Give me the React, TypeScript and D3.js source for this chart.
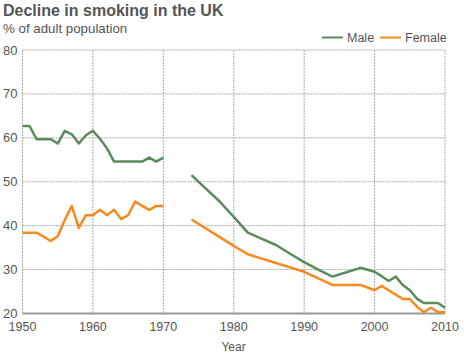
import React from "react";
import * as d3 from "d3";

const years: number[] = [
  1950, 1951, 1952, 1953, 1954, 1955, 1956, 1957, 1958, 1959, 1960, 1961, 1962, 1963, 1964, 1965, 1966, 1967, 1968, 1969, 1970,
  1974, 1976, 1978, 1980, 1982, 1984, 1986, 1988, 1990, 1992, 1994, 1996, 1998, 2000, 2001, 2002, 2003, 2004, 2005, 2006, 2007, 2008, 2009, 2010,
];
const maleValues: number[] = [
  62.7, 62.7, 59.7, 59.7, 59.7, 58.7, 61.6, 60.8, 58.7, 60.6, 61.6, 59.8, 57.6, 54.6, 54.6, 54.6, 54.6, 54.6, 55.5, 54.6, 55.5,
  51.5, 48.5, 45.5, 42.0, 38.4, 37.0, 35.6, 33.6, 31.7, 30.0, 28.4, 29.4, 30.4, 29.5, 28.5, 27.4, 28.4, 26.5, 25.3, 23.4, 22.4, 22.4, 22.4, 21.3,
];
const femaleValues: number[] = [
  38.4, 38.4, 38.4, 37.5, 36.5, 37.6, 41.3, 44.5, 39.5, 42.4, 42.4, 43.6, 42.4, 43.6, 41.5, 42.4, 45.5, 44.5, 43.6, 44.5, 44.5,
  41.4, 39.4, 37.4, 35.4, 33.5, 32.5, 31.5, 30.5, 29.5, 28.0, 26.5, 26.5, 26.5, 25.3, 26.3, 25.3, 24.3, 23.3, 23.3, 21.6, 20.3, 21.3, 20.3, 20.3,
];
const yTicks: number[] = [20, 30, 40, 50, 60, 70, 80];
const xTicks: number[] = [1950, 1960, 1970, 1980, 1990, 2000, 2010];
const gapAfter = 1970;

const W = 464;
const H = 353;
const FONT = "'Liberation Sans', Arial, Helvetica, sans-serif";
const MALE = "#5b8a5b";
const FEMALE = "#f7891f";

export default function App() {
  const x = d3.scaleLinear().domain([1950, 2010]).range([22.5, 445]);
  const y = d3.scaleLinear().domain([20, 80]).range([313.5, 50]);

  const mk = (vals: number[]) => {
    const pts = years.map((yr, i) => ({ yr, v: vals[i] }));
    const a = pts.filter((p) => p.yr <= gapAfter);
    const b = pts.filter((p) => p.yr > gapAfter);
    const line = d3
      .line<{ yr: number; v: number }>()
      .x((d) => x(d.yr))
      .y((d) => y(d.v));
    return [line(a) || "", line(b) || ""];
  };
  const male = mk(maleValues);
  const female = mk(femaleValues);

  return (
    <svg width={W} height={H} style={{ position: "absolute", left: 0, top: 0, background: "#fff" }}>
      <text x={3} y={15.5} fontFamily={FONT} fontWeight="bold" fontSize={16} fill="#555">
        Decline in smoking in the UK
      </text>
      <text x={3} y={33} fontFamily={FONT} fontSize={13.3} fill="#555">
        % of adult population
      </text>
      {/* legend */}
      <line x1={322} x2={343} y1={37.5} y2={37.5} stroke={MALE} strokeWidth={2} />
      <text x={347} y={42} fontFamily={FONT} fontSize={12.5} fill="#555">
        Male
      </text>
      <line x1={380} x2={401} y1={37.5} y2={37.5} stroke={FEMALE} strokeWidth={2} />
      <text x={405} y={42} fontFamily={FONT} fontSize={12.5} fill="#555">
        Female
      </text>
      {/* grid */}
      {yTicks
        .filter((t) => t !== 20)
        .map((t) => (
          <line key={"h" + t} x1={x(1950)} x2={x(2010)} y1={y(t)} y2={y(t)} stroke="#aaa" strokeWidth={1} strokeDasharray="2,1" />
        ))}
      {xTicks.map((t) => (
        <line key={"v" + t} x1={x(t)} x2={x(t)} y1={y(80)} y2={y(20)} stroke="#aaa" strokeWidth={1} strokeDasharray="2,1" />
      ))}
      <line x1={x(1950)} x2={x(2010)} y1={y(20)} y2={y(20)} stroke="#999" strokeWidth={2} />
      {yTicks.map((t) => (
        <text key={"yl" + t} x={17.5} y={y(t) + 4.5} textAnchor="end" fontFamily={FONT} fontSize={13} fill="#555">
          {t}
        </text>
      ))}
      {xTicks.map((t) => (
        <text key={"xl" + t} x={x(t)} y={331} textAnchor="middle" fontFamily={FONT} fontSize={12.5} fill="#555">
          {t}
        </text>
      ))}
      <text x={233.5} y={351} textAnchor="middle" fontFamily={FONT} fontSize={12} fill="#555">
        Year
      </text>
      {male.map((d, i) => (
        <path key={"m" + i} d={d} fill="none" stroke={MALE} strokeWidth={2.5} strokeLinejoin="round" />
      ))}
      {female.map((d, i) => (
        <path key={"f" + i} d={d} fill="none" stroke={FEMALE} strokeWidth={2.5} strokeLinejoin="round" />
      ))}
    </svg>
  );
}
